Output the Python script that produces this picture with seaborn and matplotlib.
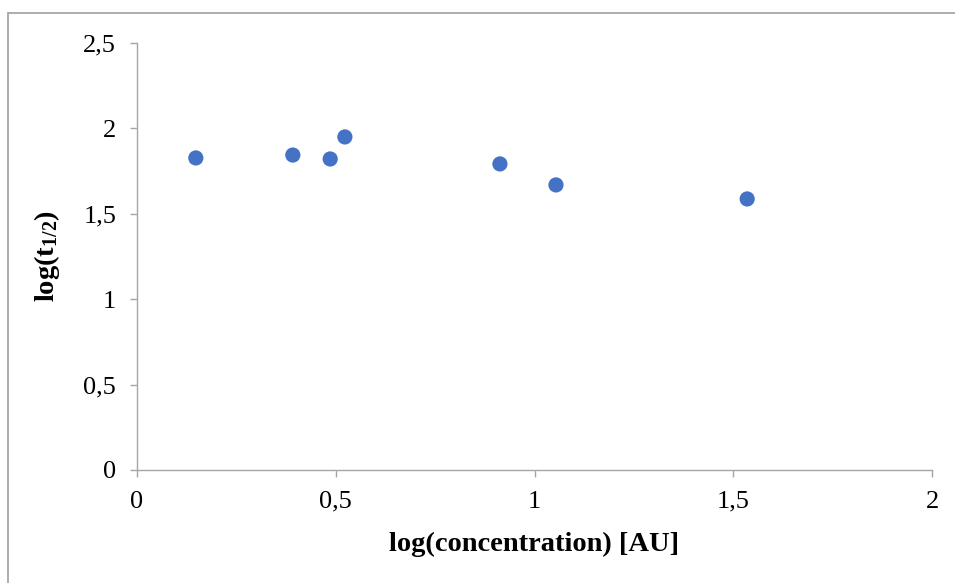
import matplotlib
matplotlib.use("Agg")
import matplotlib.pyplot as plt
import seaborn as sns
import pandas as pd
from matplotlib.patches import Rectangle
from matplotlib.ticker import FuncFormatter

log_conc = [0.148, 0.392, 0.486, 0.523, 0.913, 1.054, 1.535]
log_t_half = [1.827, 1.844, 1.821, 1.950, 1.792, 1.669, 1.587]
x_ticks = [0, 0.5, 1, 1.5, 2]
y_ticks = [0, 0.5, 1, 1.5, 2, 2.5]

sns.set_style("white")
plt.rcParams['font.family'] = ['Liberation Serif', 'DejaVu Serif']
plt.rcParams['mathtext.fontset'] = 'custom'
plt.rcParams['mathtext.rm'] = 'Liberation Serif:bold'
plt.rcParams['mathtext.it'] = 'Liberation Serif:bold'
plt.rcParams['mathtext.bf'] = 'Liberation Serif:bold'

df = pd.DataFrame({"x": log_conc, "y": log_t_half})

fig = plt.figure(figsize=(9.55, 5.83), dpi=100)
ax = fig.add_axes([137/955, 1-470/583, (932-137)/955, (470-43)/583])

sns.scatterplot(data=df, x="x", y="y", ax=ax, color="#4472C4", s=120,
                edgecolor="none", linewidth=0, zorder=3)

ax.set_xlim(0, 2)
ax.set_ylim(0, 2.5)
ax.set_xticks(x_ticks)
ax.set_yticks(y_ticks)
fmt = FuncFormatter(lambda v, p: ('%g' % v).replace('.', ','))
ax.xaxis.set_major_formatter(fmt)
ax.yaxis.set_major_formatter(fmt)

spine_color = "#A6A6A6"
for s in ["top", "right"]:
    ax.spines[s].set_visible(False)
for s in ["left", "bottom"]:
    ax.spines[s].set_color(spine_color)
    ax.spines[s].set_linewidth(1.0)
ax.tick_params(axis='both', which='major', direction='out', length=5,
               width=1.0, color=spine_color, labelsize=19, labelcolor='black',
               bottom=True, left=True)
ax.tick_params(axis='x', pad=10)
ax.tick_params(axis='y', pad=10)

ax.set_xlabel("log(concentration) [AU]", fontsize=20.5, fontweight='bold',
              labelpad=14, color='black')
ax.set_ylabel(r"log(t$_{1/2}$)", fontsize=20.5, fontweight='bold',
              labelpad=15, color='black')

fig.patches.append(Rectangle((8/955, -0.1), 1.2, 1-13/583+0.1,
                             transform=fig.transFigure, fill=False,
                             edgecolor="#A0A0A0", linewidth=1.2, zorder=10))

fig.savefig("out.png", dpi=100)
